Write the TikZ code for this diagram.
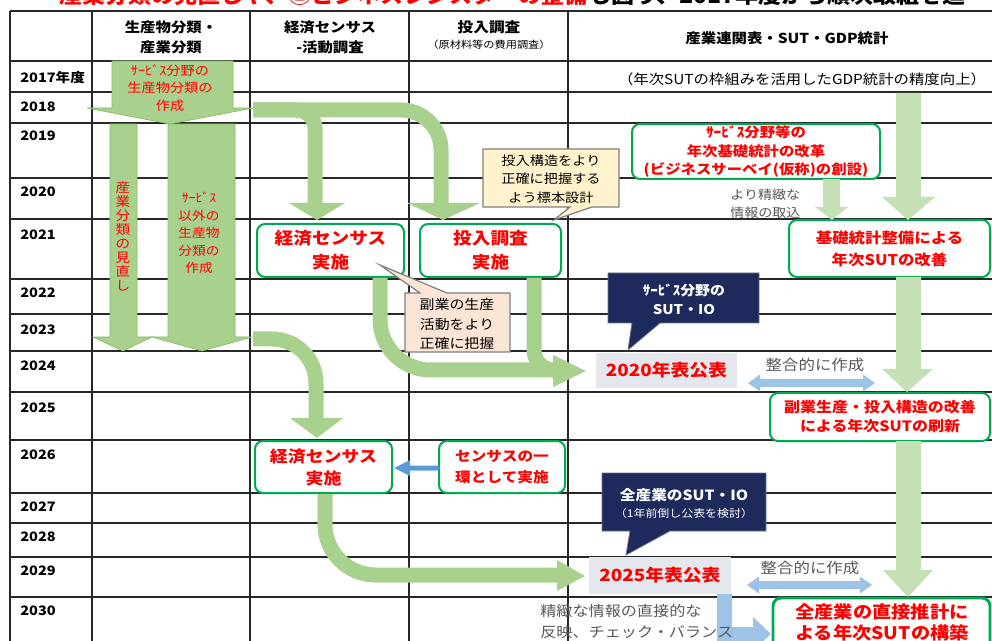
\documentclass[tikz,border=0pt]{standalone}
\usepackage{fontspec}
\setmainfont{Noto Sans CJK JP}[FakeStretch=1.12]
\definecolor{lg}{RGB}{169,209,142}
\definecolor{lgd}{RGB}{135,185,105}
\definecolor{pg}{RGB}{197,224,180}
\definecolor{bx}{RGB}{0,170,80}
\definecolor{rd}{RGB}{255,0,0}
\definecolor{nv}{RGB}{31,42,92}
\definecolor{gb}{RGB}{228,232,238}
\definecolor{cba}{RGB}{255,242,204}
\definecolor{cbb}{RGB}{251,229,214}
\definecolor{lb}{RGB}{157,195,230}
\definecolor{mb}{RGB}{91,155,213}
\definecolor{tx}{RGB}{89,89,89}
\definecolor{gl}{RGB}{40,40,40}
\newcommand\fsz[2]{\fontsize{#1}{#2}\selectfont}
\begin{document}
\begin{tikzpicture}[x=0.75pt,y=-0.75pt,
  gline/.style={draw=gl,line width=0.9pt},
  band/.style={draw=lg,line width=11.25pt},
  gbox/.style={draw=bx,line width=1.5pt,rounded corners=6pt,fill=white,inner sep=0pt,text=rd,align=center},
  gfill/.style={fill=gb,inner sep=0pt,text=rd,align=center},
  yr/.style={anchor=west,inner sep=0pt,font=\fsz{9.75pt}{12pt}\bfseries},
  hd/.style={align=center,inner sep=0pt,font=\fsz{10.3pt}{15pt}\bfseries},
  note/.style={align=center,inner sep=0pt},
  cpath/.style={draw={rgb,255:red,128;green,128;blue,128},line width=0.9pt},
  sz/.style 2 args={minimum width=#1*0.75pt,minimum height=#2*0.75pt}
]
\useasboundingbox (0,0) rectangle (992,641);
\clip (0,0) rectangle (992,641);
\fill[white] (0,0) rectangle (992,641);

% cut-off heading
\node[anchor=base east,inner sep=0pt,text=rd,font=\fsz{15.4pt}{18pt}\bfseries] (ttla) at (588,3.5) {産業分類の見直しや、②ビジネスレジスターの整備};
\node[anchor=base west,inner sep=0pt,font=\fsz{15.4pt}{18pt}\bfseries] (ttlb) at (588,3.5) {も図り、2017年度から順次取組を進};

% grid
\foreach \y in {11,61,92,123,178,219,279,314,351,392,440,493,523,557,597}
  \draw[gline] (10,\y) -- (1000,\y);
\foreach \x in {10,92,250,409,568}
  \draw[gline] (\x,11) -- (\x,660);

% headers
\node[hd] (h1) at (171,37) {生産物分類・\\産業分類};
\node[hd] (h2) at (330,37) {経済センサス\\-活動調査};
\node[hd,font=\fsz{10.5pt}{12pt}\bfseries] (h3) at (489,27) {投入調査};
\node[note,font=\fsz{7.5pt}{9pt}] (h3b) at (489,45) {（原材料等の費用調査）};
\node[hd] (h4) at (787,38) {産業連関表・SUT・GDP統計};

% years
\node[yr] (y17) at (20,78) {2017年度};
\node[yr] (y18) at (20,107) {2018};
\node[yr] (y19) at (20,136) {2019};
\node[yr] (y20) at (20,192) {2020};
\node[yr] (y21) at (20,235) {2021};
\node[yr] (y22) at (20,293) {2022};
\node[yr] (y23) at (20,330) {2023};
\node[yr] (y24) at (20,366) {2024};
\node[yr] (y25) at (20,408) {2025};
\node[yr] (y26) at (20,455) {2026};
\node[yr] (y27) at (20,507) {2027};
\node[yr] (y28) at (20,537) {2028};
\node[yr] (y29) at (20,571) {2029};
\node[yr] (y30) at (20,611) {2030};

\node[note,font=\fsz{10.3pt}{12pt}] (gdp) at (802,79) {（年次SUTの枠組みを活用したGDP統計の精度向上）};

% left column block arrows
\filldraw[fill=lg,draw=lgd,line width=0.5pt] (112,61) -- (233,61) -- (233,108) -- (253,108) -- (170,124) -- (87,108) -- (112,108) -- cycle;
\filldraw[fill=lg,draw=lgd,line width=0.5pt] (110,124) -- (137,124) -- (137,337) -- (152,337) -- (123,351) -- (93,337) -- (110,337) -- cycle;
\filldraw[fill=lg,draw=lgd,line width=0.5pt] (168,124) -- (235,124) -- (235,337) -- (252,337) -- (202,351) -- (152,337) -- (168,337) -- cycle;
\node[note,text=rd,font=\fsz{9.5pt}{13.1pt}] (ta) at (170,88) {ｻｰﾋﾞｽ分野の\\生産物分類の\\作成};
\node[note,text=rd,font=\fsz{9.75pt}{10.5pt}] (tb) at (123,236) {産\\業\\分\\類\\の\\見\\直\\し};
\node[note,text=rd,font=\fsz{9.2pt}{13.1pt}] (tc) at (199,233) {ｻｰﾋﾞｽ\\以外の\\生産物\\分類の\\作成};

% green boxes
\node[gbox,sz={147}{53},font=\fsz{12.5pt}{18pt}\bfseries] (K1) at (330.5,250.5) {経済センサス\\実施};
\node[gbox,sz={141}{53},font=\fsz{12.5pt}{18pt}\bfseries] (T1) at (490.5,250.5) {投入調査\\実施};
\node[gbox,sz={248}{55},font=\fsz{10.3pt}{13.9pt}\bfseries] (S1) at (756,151.5) {ｻｰﾋﾞｽ分野等の\\年次基礎統計の改革\\(ビジネスサーベイ(仮称)の創設)};
\node[gbox,sz={201}{57},font=\fsz{11pt}{16.5pt}\bfseries] (B1) at (889.5,248.5) {基礎統計整備による\\年次SUTの改善};
\node[gbox,sz={220}{48},font=\fsz{10.7pt}{14.3pt}\bfseries] (F1) at (880,417) {副業生産・投入構造の改善\\による年次SUTの刷新};
\node[gbox,sz={137}{52},font=\fsz{12pt}{16.5pt}\bfseries] (K2) at (323.5,467) {経済センサス\\実施};
\node[gbox,sz={126}{52},font=\fsz{10.5pt}{15.75pt}\bfseries] (C3) at (502,467) {センサスの一\\環として実施};

% grey-filled publication boxes
\node[gfill,sz={141}{35},font=\fsz{12.6pt}{14pt}\bfseries] (P1) at (666.5,370.5) {2020年表公表};
\node[gfill,sz={142}{37},font=\fsz{12.6pt}{14pt}\bfseries] (P2) at (660,575.5) {2025年表公表};

% right pale arrows (S1 -> B1, top -> B1, B1 -> F1, F1 -> Z1)
\fill[pg] (896,93) -- (921,93) -- (921,197) -- (935,197) -- (908,220) -- (882,197) -- (896,197) -- cycle;
\fill[pg] (896,277) -- (921,277) -- (921,369) -- (933,369) -- (907,392) -- (882,369) -- (896,369) -- cycle;
\fill[pg] (896,441) -- (921,441) -- (921,570) -- (933,570) -- (908,597) -- (883,570) -- (896,570) -- cycle;
\fill[pg] (823,179) -- (840,179) -- (840,207) -- (848,207) -- (832,220) -- (815,207) -- (823,207) -- cycle;

% bands
\draw[band,rounded corners=30] (253,110) -- (441,110) -- (441,204);
\draw[band,rounded corners=14] (253,110) -- (315,110) -- (315,204);
\fill[lg] (289,203) -- (345,203) -- (317,220) -- cycle;
\fill[lg] (407,203) -- (480,203) -- (443,220) -- cycle;

\draw[band,rounded corners=38] (K1.south -| 380,0) -- (380,370) -- (554,370);
\draw[band,rounded corners=15] (T1.south -| 534,0) -- (534,370) -- (554,370);
\fill[lg] (553,355) -- (586,371) -- (553,387) -- cycle;

\draw[band,rounded corners=33] (253,339) -- (316,339) -- (316,419);
\fill[lg] (290,418) -- (343,418) -- (317,438) -- cycle;

\draw[band,rounded corners=38] (K2.south -| 325,0) -- (325,575) -- (558,575);
\fill[lg] (557,560) -- (585,576) -- (557,591) -- cycle;

% blue arrows
\fill[lb] (748,383) -- (760,374.5) -- (760,379) -- (863,379) -- (863,374.5) -- (875,383) -- (863,391.5) -- (863,387) -- (760,387) -- (760,391.5) -- cycle;
\fill[lb] (747,585) -- (759,576.5) -- (759,581) -- (860,581) -- (860,576.5) -- (872,585) -- (860,593.5) -- (860,589) -- (759,589) -- (759,593.5) -- cycle;
\fill[mb] (439,465.5) -- (410,465.5) -- (410,460) -- (394,468) -- (410,476) -- (410,470.5) -- (439,470.5) -- cycle;
\draw[lb,line width=11.25pt] (P2.south -| 724,0) -- (724,634) -- (754,634);
\fill[lb] (753,617) -- (771,634) -- (753,651) -- cycle;

% callouts
\filldraw[fill=cba,cpath] (483,149) -- (619,149) -- (619,207) -- (592,207) -- (554,220) -- (570,207) -- (483,207) -- cycle;
\node[note,font=\fsz{9.5pt}{13.9pt}] (ca) at (551,179) {投入構造をより\\正確に把握する\\よう標本設計};
\filldraw[fill=cbb,cpath] (405,293) -- (420,293) -- (380,265) -- (447,293) -- (510,293) -- (510,352) -- (405,352) -- cycle;
\node[note,font=\fsz{10pt}{14.3pt}] (cb) at (457,324) {副業の生産\\活動をより\\正確に把握};
\filldraw[fill=nv,draw={rgb,255:red,110;green,115;blue,130},line width=0.6pt] (608,273) -- (759,273) -- (759,323) -- (660,323) -- (628,350) -- (632,323) -- (608,323) -- cycle;
\node[note,text=white,font=\fsz{10pt}{14.3pt}\bfseries] (na) at (684,299) {ｻｰﾋﾞｽ分野の\\SUT・IO};
\filldraw[fill=nv,draw={rgb,255:red,110;green,115;blue,130},line width=0.6pt] (602,473) -- (766,473) -- (766,531) -- (670,531) -- (626,555) -- (630,531) -- (602,531) -- cycle;
\node[note,text=white,font=\fsz{10.5pt}{12pt}\bfseries] (nb) at (684,495) {全産業のSUT・IO};
\node[note,text=white,font=\fsz{8pt}{10pt}] (nc) at (684,513) {（1年前倒し公表を検討）};

% bottom box (cut by page edge)
\draw[draw=bx,line width=2.2pt,rounded corners=6pt,fill=white] (773,598) rectangle (990,690);
\node[note,text=rd,font=\fsz{12.9pt}{15.75pt}\bfseries] (Z1) at (882,622) {全産業の直接推計に\\よる年次SUTの構築};

% plain notes
\node[anchor=west,align=left,inner sep=0pt,text=tx,font=\fsz{9.4pt}{13.5pt}] (pa) at (730,204) {より精緻な\\情報の取込};
\node[note,text=tx,font=\fsz{11pt}{12pt}] (pb) at (815,365) {整合的に作成};
\node[note,text=tx,font=\fsz{11pt}{12pt}] (pc) at (810,568) {整合的に作成};
\node[anchor=west,align=left,inner sep=0pt,text=tx,font=\fsz{10.8pt}{15.75pt}] (pd) at (540,622) {精緻な情報の直接的な\\反映、チェック・バランス};
\end{tikzpicture}
\end{document}
